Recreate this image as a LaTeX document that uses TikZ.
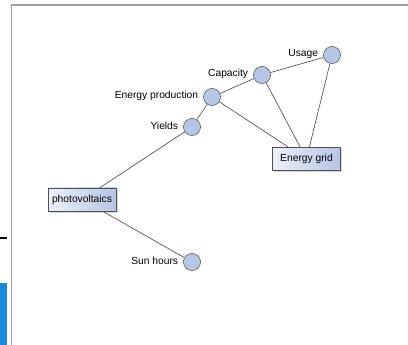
\documentclass[tikz,border=0pt]{standalone}
\usepackage{fontspec}
\setmainfont{Liberation Sans}
\usepackage{tikz}
\usetikzlibrary{positioning,shadows}
\definecolor{cNode}{RGB}{182,199,230}
\definecolor{cEdge}{RGB}{80,80,80}
\definecolor{cBoxL}{RGB}{236,240,250}
\definecolor{cBoxR}{RGB}{182,197,230}
\definecolor{cFrame}{RGB}{160,160,160}
\definecolor{cTab}{RGB}{26,136,216}
\begin{document}
\begin{tikzpicture}[x=0.75pt,y=-0.75pt,font=\fontsize{7.7}{9}\selectfont,
   item/.style={circle,draw=cEdge,fill=cNode,minimum size=12.8pt,inner sep=0pt,
     label={[label distance=0.3pt,yshift=1pt]left:#1}},
   box/.style={draw=cEdge,left color=cBoxL,right color=cBoxR,minimum width=51pt,
     minimum height=17.5pt,inner sep=2pt,drop shadow={shadow xshift=1.2pt,shadow yshift=-1.2pt,fill=gray!60}},
   link/.style={draw=cEdge,line width=0.5pt}]
  \useasboundingbox (0,0) rectangle (408,345);
  % frame of the window
  \draw[cFrame,line width=1.1pt] (11.5,345) -- (11.5,5) -- (408,5);
  \draw[black,line width=1.6pt] (0,238) -- (7,238);
  \fill[cTab] (0,283) rectangle (7,345);
  % nodes
  \node[box] (pv) at (82,199.5) {photovoltaics};
  \node[box] (grid) at (306.5,159) {Energy grid};
  \node[item=Sun hours] (sun) at (192,262) {};
  \node[item=Yields] (yld) at (192,127) {};
  \node[item=Energy production] (prod) at (212,97) {};
  \node[item=Capacity] (cap) at (262,75) {};
  \node[item=Usage] (use) at (332,55) {};
  % links
  \draw[link] (pv)--(yld);
  \draw[link] (pv)--(sun);
  \draw[link] (yld)--(prod);
  \draw[link] (prod)--(cap);
  \draw[link] (cap)--(use);
  \draw[link] (prod)--(grid);
  \draw[link] (cap)--(grid);
  \draw[link] (use)--(grid);
\end{tikzpicture}
\end{document}
